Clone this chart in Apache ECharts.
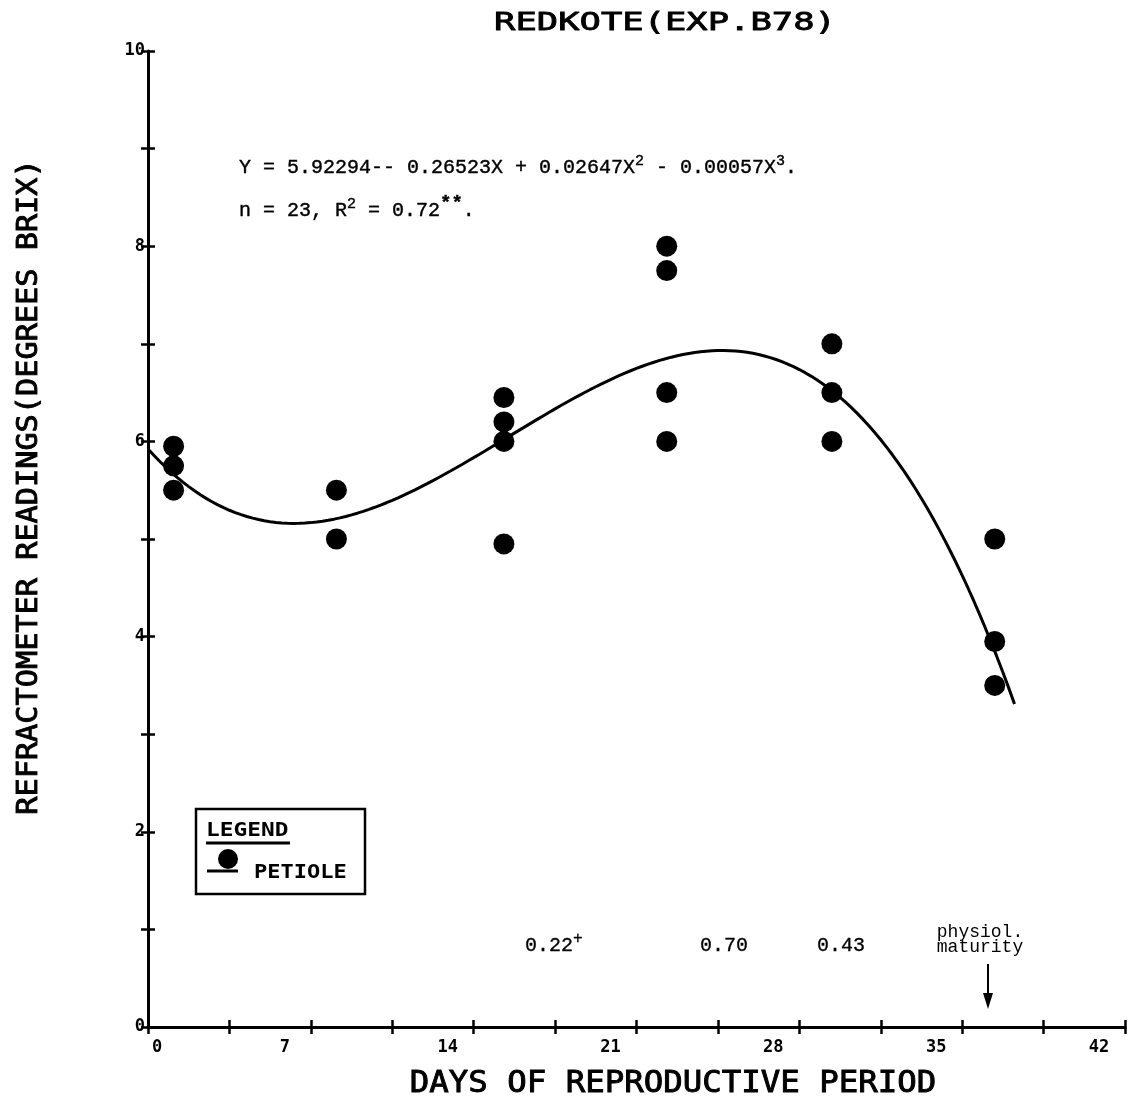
<!DOCTYPE html>
<html>
<head>
<meta charset="utf-8">
<script src="https://cdn.jsdelivr.net/npm/echarts@6/dist/echarts.min.js"></script>
<style>
  html, body { margin: 0; padding: 0; background: #fff; }
  #chart { width: 1132px; height: 1102px; }
</style>
</head>
<body>
<div id="chart"></div>
<script>
// Sampling days of the reproductive period
const sampleDays = [1.1, 8.1, 15.3, 22.3, 29.4, 36.4];
// Petiole refractometer readings (degrees Brix) at each sampling day
const petioleBrix = [
  [5.95, 5.75, 5.5],
  [5.5, 5.0],
  [6.45, 6.2, 6.0, 4.95],
  [8.0, 7.75, 6.5, 6.0],
  [7.0, 6.5, 6.0],
  [5.0, 3.95, 3.5]
];
// Cubic regression: Y = 5.92294 - 0.26523X + 0.02647X^2 - 0.00057X^3
const fitCoef = [5.92294, -0.26523, 0.02647, -0.00057];
const fitRange = [0, 37.3];
// Axis tick labels
const xTickLabels = ['0', '7', '14', '21', '28', '35', '42'];
const yTickLabels = ['0', '2', '4', '6', '8', '10'];
// Correlation values printed under the curve
const rValues = ['0.22', '0.70', '0.43'];

const points = [];
sampleDays.forEach((d, i) => petioleBrix[i].forEach(v => points.push([d, v])));

const fitLine = [];
for (let x = fitRange[0]; x <= fitRange[1] + 1e-9; x += 0.25) {
  const y = fitCoef[0] + fitCoef[1] * x + fitCoef[2] * x * x + fitCoef[3] * x * x * x;
  fitLine.push([+x.toFixed(2), y]);
}

const plotter = '"DejaVu Sans Mono", monospace';
const typewriter = '"Liberation Mono", "DejaVu Sans Mono", monospace';

const chart = echarts.init(document.getElementById('chart'), null, { renderer: 'canvas' });

const baseX = { type: 'value', min: 0, max: 42, interval: 3.5, splitLine: { show: false } };
const baseY = { type: 'value', min: 0, max: 10, interval: 1, splitLine: { show: false } };
const tickStyle = { color: '#000', width: 2.5 };

chart.setOption({
  animation: false,
  backgroundColor: '#fff',
  grid: { left: 148, right: 7, top: 51, bottom: 75, containLabel: false },
  xAxis: [
    Object.assign({}, baseX, {
      position: 'bottom',
      axisLine: { show: true, lineStyle: { color: '#000', width: 3 } },
      axisTick: { show: true, length: 7, lineStyle: tickStyle },
      axisLabel: {
        show: true, margin: 12,
        formatter: v => {
          const k = Math.round(v / 7);
          if (Math.abs(v - k * 7) > 1e-6) return '';
          return k === 0 ? '{z|' + xTickLabels[k] + '}' : '{n|' + xTickLabels[k] + '}';
        },
        rich: {
          z: { fontFamily: plotter, fontWeight: 'bold', fontSize: 17, color: '#000', padding: [0, 0, 0, 18] },
          n: { fontFamily: plotter, fontWeight: 'bold', fontSize: 17, color: '#000', padding: [0, 52, 0, 0] }
        }
      }
    }),
    Object.assign({}, baseX, {
      position: 'bottom',
      axisLine: { show: false },
      axisTick: { show: true, inside: true, length: 7, lineStyle: tickStyle },
      axisLabel: { show: false }
    })
  ],
  yAxis: [
    Object.assign({}, baseY, {
      position: 'left',
      axisLine: { show: true, lineStyle: { color: '#000', width: 3 } },
      axisTick: { show: true, length: 7, lineStyle: tickStyle },
      axisLabel: {
        show: true, margin: 3,
        fontFamily: plotter, fontWeight: 'bold', fontSize: 17, color: '#000',
        formatter: v => (Math.round(v) % 2 === 0 ? yTickLabels[Math.round(v) / 2] : '')
      }
    }),
    Object.assign({}, baseY, {
      position: 'left',
      axisLine: { show: false },
      axisTick: { show: true, inside: true, length: 7, lineStyle: tickStyle },
      axisLabel: { show: false }
    })
  ],
  series: [
    {
      name: 'FIT', type: 'line', data: fitLine, showSymbol: false, smooth: false,
      lineStyle: { color: '#000', width: 3 }, z: 3
    },
    {
      name: 'PETIOLE', type: 'scatter', data: points, symbol: 'circle', symbolSize: 21,
      itemStyle: { color: '#000', opacity: 1 }, z: 4
    }
  ],
  graphic: [
    // Title
    { type: 'text', x: 665, y: 23, scaleX: 1.42,
      style: { text: 'REDKOTE(EXP.B78)', font: '25px ' + plotter, fill: '#000', stroke: '#000', lineWidth: 0.8,
        align: 'center', verticalAlign: 'middle' } },
    // X axis name
    { type: 'text', x: 673, y: 1084, scaleX: 1.08,
      style: { text: 'DAYS OF REPRODUCTIVE PERIOD', font: '30px ' + plotter, fill: '#000', stroke: '#000', lineWidth: 0.9,
        align: 'center', verticalAlign: 'middle' } },
    // Y axis name
    { type: 'text', x: 30, y: 487, rotation: Math.PI / 2, scaleX: 1.08,
      style: { text: 'REFRACTOMETER READINGS(DEGREES BRIX)', font: '28px ' + plotter, fill: '#000', stroke: '#000', lineWidth: 0.9,
        align: 'center', verticalAlign: 'middle' } },
    // Regression equation
    { type: 'text', x: 239, y: 168,
      style: {
        text: 'Y = 5.92294-- 0.26523X + 0.02647X{s|2} - 0.00057X{s|3}.',
        font: '20px ' + typewriter, fill: '#000', stroke: '#000', lineWidth: 0.4, verticalAlign: 'middle',
        rich: { s: { font: '15px ' + typewriter, fill: '#000', padding: [0, 0, 14, 0] } }
      } },
    { type: 'text', x: 239, y: 211,
      style: {
        text: 'n = 23, R{s|2} = 0.72{t|**}.',
        font: '20px ' + typewriter, fill: '#000', stroke: '#000', lineWidth: 0.4, verticalAlign: 'middle',
        rich: {
          s: { font: '15px ' + typewriter, fill: '#000', padding: [0, 0, 14, 0] },
          t: { font: 'bold 19px ' + typewriter, fill: '#000', padding: [0, 0, 16, 0] }
        }
      } },
    // Correlation values
    { type: 'text', x: 525, y: 946,
      style: { text: rValues[0] + '{s|+}', font: '20px ' + typewriter, fill: '#000', stroke: '#000', lineWidth: 0.3, verticalAlign: 'middle',
        rich: { s: { font: '16px ' + typewriter, fill: '#000', padding: [0, 0, 14, 0] } } } },
    { type: 'text', x: 700, y: 946,
      style: { text: rValues[1], font: '20px ' + typewriter, fill: '#000', stroke: '#000', lineWidth: 0.3, verticalAlign: 'middle' } },
    { type: 'text', x: 817, y: 946,
      style: { text: rValues[2], font: '20px ' + typewriter, fill: '#000', stroke: '#000', lineWidth: 0.3, verticalAlign: 'middle' } },
    // Physiological maturity marker
    { type: 'text', x: 980, y: 940,
      style: { text: 'physiol.\nmaturity', font: '18px ' + typewriter, fill: '#000', align: 'center', verticalAlign: 'middle', lineHeight: 15 } },
    { type: 'line', shape: { x1: 988, y1: 964, x2: 988, y2: 996 }, style: { stroke: '#000', lineWidth: 2 } },
    { type: 'polygon', shape: { points: [[983, 993], [993, 993], [988, 1009]] }, style: { fill: '#000' } },
    // Legend box
    { type: 'rect', shape: { x: 196, y: 809, width: 169, height: 85 }, style: { fill: '#fff', stroke: '#000', lineWidth: 2.5 } },
    { type: 'text', x: 206, y: 831, scaleX: 1.14,
      style: { text: 'LEGEND', font: 'bold 20px ' + plotter, fill: '#000', verticalAlign: 'middle' } },
    { type: 'line', shape: { x1: 206, y1: 843, x2: 290, y2: 843 }, style: { stroke: '#000', lineWidth: 3 } },
    { type: 'circle', shape: { cx: 228, cy: 859, r: 10 }, style: { fill: '#000' } },
    { type: 'line', shape: { x1: 207, y1: 871, x2: 238, y2: 871 }, style: { stroke: '#000', lineWidth: 3 } },
    { type: 'text', x: 254, y: 873, scaleX: 1.1,
      style: { text: 'PETIOLE', font: 'bold 20px ' + plotter, fill: '#000', verticalAlign: 'middle' } }
  ]
});
</script>
</body>
</html>
